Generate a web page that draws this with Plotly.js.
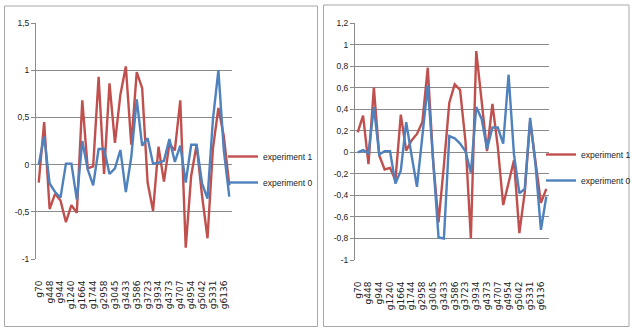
<!DOCTYPE html>
<html>
<head>
<meta charset="utf-8">
<script src="https://cdn.plot.ly/plotly-3.0.1.min.js"></script>
<style>html,body{margin:0;padding:0;background:#fff;}#chart{width:632px;height:328px;}</style>
</head>
<body>
<div id="chart"></div>
<script>
// Tick labels shown on the category axis (every second category is labelled)
const tickLabels = ["g70","g448","g944","g1240","g1664","g1744","g2958","g3045","g3433",
  "g3586","g3723","g3934","g4373","g4707","g4954","g5042","g5331","g6136"];

const seriesNames = ["experiment 1", "experiment 0"];

// Left chart
const leftExp1 = [-0.19, 0.45, -0.47, -0.31, -0.38, -0.61, -0.43, -0.51, 0.68, -0.04, -0.02, 0.93,
  -0.10, 0.86, 0.23, 0.74, 1.04, 0.21, 0.98, 0.81, -0.19, -0.49, 0.19, -0.18,
  0.22, 0.15, 0.68, -0.88, -0.12, 0.21, -0.33, -0.78, 0.17, 0.60, 0.30, -0.22];
const leftExp0 = [0.00, 0.30, -0.20, -0.29, -0.35, 0.01, 0.01, -0.37, 0.25, -0.05, -0.22, 0.165,
  0.165, -0.10, -0.04, 0.155, -0.29, 0.08, 0.69, 0.20, 0.28, 0.01, 0.02, 0.04,
  0.27, 0.03, 0.20, -0.19, 0.21, 0.21, -0.20, -0.36, 0.48, 1.00, 0.15, -0.34];
const leftYTicks = [-1, -0.5, 0, 0.5, 1, 1.5];
const leftYLabels = ["-1", "-0,5", "0", "0,5", "1", "1,5"];

// Right chart
const rightExp1 = [0.185, 0.34, -0.11, 0.60, -0.03, -0.16, -0.145, -0.26, 0.35, 0.015, 0.11, 0.17,
  0.28, 0.785, -0.08, -0.65, -0.12, 0.46, 0.63, 0.58, 0.10, -0.80, 0.94, 0.50,
  0.01, 0.45, 0.05, -0.49, -0.28, -0.075, -0.75, -0.37, 0.29, -0.10, -0.47, -0.34];
const rightExp0 = [0.00, 0.02, -0.01, 0.42, -0.02, 0.01, 0.01, -0.29, -0.17, 0.28, -0.03, -0.32,
  0.15, 0.62, -0.08, -0.79, -0.80, 0.15, 0.13, 0.08, 0.01, -0.19, 0.42, 0.31,
  0.03, 0.23, 0.23, 0.08, 0.72, -0.02, -0.38, -0.34, 0.32, -0.12, -0.72, -0.41];
const rightYTicks = [-1, -0.8, -0.6, -0.4, -0.2, 0, 0.2, 0.4, 0.6, 0.8, 1, 1.2];
const rightYLabels = ["-1", "-0,8", "-0,6", "-0,4", "-0,2", "0", "0,2", "0,4", "0,6", "0,8", "1", "1,2"];

const RED = "#C0504D", BLUE = "#4F81BD";
const W = 632, H = 328;
const GRID = "#8a8a8a", AXIS = "#8a8a8a", BORDER = "#a8a8a8";
const labelFont = {family: "Liberation Sans Narrow, Arial Narrow, Liberation Sans, sans-serif", size: 8.5, color: "#222"};
const xFont = {family: "DejaVu Sans, sans-serif", size: 9, color: "#222"};

const n = leftExp1.length;
const xIdx = leftExp1.map((_, i) => i);
const tickVals = tickLabels.map((_, i) => 2 * i);
const boundaries = Array.from({length: n + 1}, (_, i) => i - 0.5);

const px = v => v / W;
const py = v => 1 - v / H;

const leftXDom = [px(36), px(232)];
const leftYDom = [py(259), py(23)];
const leftRange = [-1, 1.5];
const rightXDom = [px(355), px(549)];
const rightYDom = [py(260), py(23)];
const rightRange = [-1, 1.2];

const zeroPos = (dom, r) => dom[0] + (0 - r[0]) / (r[1] - r[0]) * (dom[1] - dom[0]);

function line(y, name, color, xa, ya, leg) {
  return {x: xIdx, y: y, name: name, type: "scatter", mode: "lines",
    line: {color: color, width: 2.4}, xaxis: xa, yaxis: ya, legend: leg,
    legendgroup: leg + name, hoverinfo: "skip"};
}

const data = [
  line(leftExp1, seriesNames[0], RED, "x", "y", "legend"),
  line(leftExp0, seriesNames[1], BLUE, "x", "y", "legend"),
  line(rightExp1, seriesNames[0], RED, "x3", "y2", "legend2"),
  line(rightExp0, seriesNames[1], BLUE, "x3", "y2", "legend2")
];

function labelAxis(dom, anchor) {
  return {domain: dom, anchor: anchor, range: [-0.5, n - 0.5], showgrid: false, zeroline: false,
    showline: false, tickmode: "array", tickvals: tickVals, ticktext: tickLabels,
    tickangle: -90, ticks: "outside", ticklen: 17, tickcolor: "rgba(0,0,0,0)",
    tickfont: xFont, automargin: false, fixedrange: true};
}
function zeroAxis(over, pos) {
  return {overlaying: over, matches: over, anchor: "free", position: pos, range: [-0.5, n - 0.5],
    showgrid: false, zeroline: false, showline: true, linecolor: AXIS, linewidth: 1,
    tickmode: "array", tickvals: boundaries, ticks: "outside", ticklen: 4, tickcolor: AXIS,
    showticklabels: false, automargin: false, fixedrange: true};
}
function yAxis(dom, anchor, r, tv, tt) {
  return {domain: dom, anchor: anchor, range: r, tickmode: "array", tickvals: tv, ticktext: tt,
    showgrid: true, gridcolor: GRID, gridwidth: 1, zeroline: false, showline: true,
    linecolor: AXIS, linewidth: 1, ticks: "outside", ticklen: 4, tickcolor: AXIS,
    tickfont: labelFont, automargin: false, fixedrange: true};
}

const legendBase = {orientation: "v", xanchor: "left", yanchor: "top", bgcolor: "rgba(0,0,0,0)",
  borderwidth: 0, font: labelFont, traceorder: "grouped", tracegroupgap: 7, itemwidth: 30};

const layout = {
  width: W, height: H,
  margin: {l: 0, r: 0, t: 0, b: 0, pad: 0, autoexpand: false},
  paper_bgcolor: "#fff", plot_bgcolor: "#fff",
  separators: ", ",
  showlegend: true,
  xaxis: labelAxis(leftXDom, "y"),
  xaxis2: zeroAxis("x", zeroPos(leftYDom, leftRange)),
  yaxis: yAxis(leftYDom, "x", leftRange, leftYTicks, leftYLabels),
  xaxis3: labelAxis(rightXDom, "y2"),
  xaxis4: zeroAxis("x3", zeroPos(rightYDom, rightRange)),
  yaxis2: yAxis(rightYDom, "x3", rightRange, rightYTicks, rightYLabels),
  legend: Object.assign({}, legendBase, {x: px(223), y: py(142)}),
  legend2: Object.assign({}, legendBase, {x: px(541), y: py(140)}),
  shapes: [
    {type: "rect", xref: "paper", yref: "paper", x0: px(4.5), x1: px(317.5), y0: py(326.5), y1: py(6),
      line: {color: BORDER, width: 1}, fillcolor: "rgba(0,0,0,0)", layer: "below"},
    {type: "rect", xref: "paper", yref: "paper", x0: px(323.5), x1: px(629), y0: py(326.5), y1: py(5),
      line: {color: BORDER, width: 1}, fillcolor: "rgba(0,0,0,0)", layer: "below"}
  ]
};

Plotly.newPlot("chart", data, layout, {displayModeBar: false, staticPlot: true});
</script>
</body>
</html>
